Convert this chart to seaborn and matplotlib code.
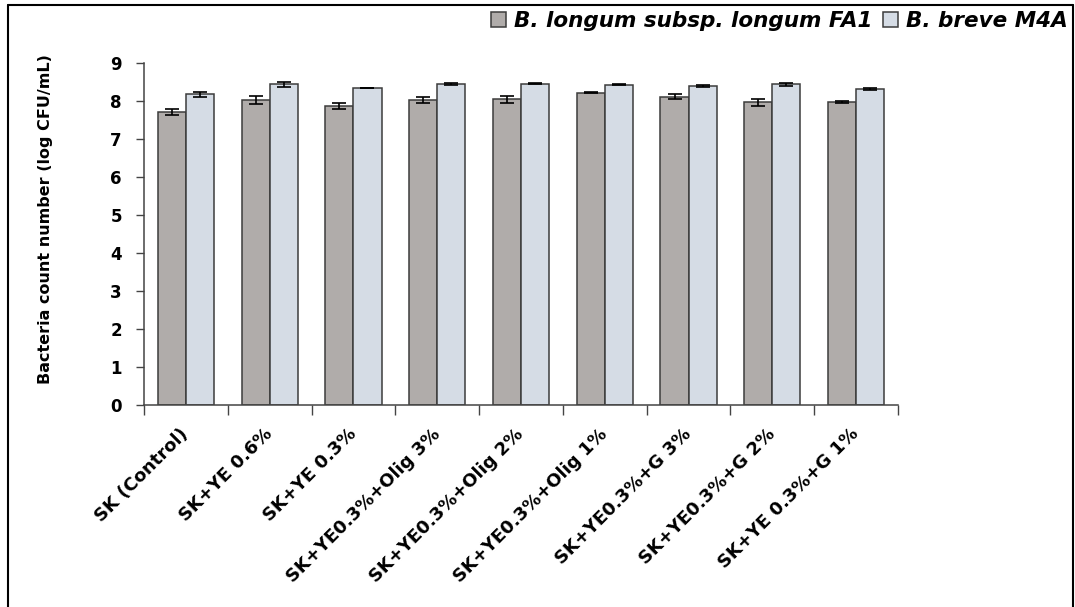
import numpy as np
import pandas as pd
import matplotlib
matplotlib.use("Agg")
import matplotlib.pyplot as plt
from matplotlib.lines import Line2D
import seaborn as sns

# Treatments and viable counts (log CFU/mL) with standard deviations
treatments = [
    "SK (Control)", "SK+YE 0.6%", "SK+YE 0.3%", "SK+YE0.3%+Olig 3%",
    "SK+YE0.3%+Olig 2%", "SK+YE0.3%+Olig 1%", "SK+YE0.3%+G 3%",
    "SK+YE0.3%+G 2%", "SK+YE 0.3%+G 1%",
]
strains = ["B. longum subsp. longum FA1", "B. breve M4A"]
fa1_mean = [7.70, 8.02, 7.87, 8.02, 8.04, 8.22, 8.11, 7.97, 7.97]
fa1_sd = [0.08, 0.11, 0.09, 0.08, 0.09, 0.01, 0.07, 0.09, 0.02]
m4a_mean = [8.18, 8.44, 8.34, 8.45, 8.46, 8.43, 8.40, 8.44, 8.32]
m4a_sd = [0.07, 0.06, 0.01, 0.02, 0.02, 0.01, 0.02, 0.04, 0.02]
yticks = list(range(0, 10))

df = pd.DataFrame({
    "treatment": treatments * 2,
    "strain": [strains[0]] * len(treatments) + [strains[1]] * len(treatments),
    "count": fa1_mean + m4a_mean,
    "sd": fa1_sd + m4a_sd,
})

sns.set_theme(style="white")
plt.rcParams["font.family"] = ["DejaVu Sans"]
plt.rcParams["font.weight"] = "bold"
plt.rcParams["text.color"] = "black"
plt.rcParams["axes.labelcolor"] = "black"
plt.rcParams["xtick.color"] = "black"
plt.rcParams["ytick.color"] = "black"

fig = plt.figure(figsize=(10.75, 6.07), dpi=100)
ax = fig.add_axes([0.134, 0.3328, 0.7013, 0.5634])

palette = {strains[0]: "#b0acaa", strains[1]: "#d5dce5"}
sns.barplot(data=df, x="treatment", y="count", hue="strain", order=treatments,
            hue_order=strains, palette=palette, width=0.67, errorbar=None,
            edgecolor="#3c3c3c", linewidth=1.1, saturation=1, ax=ax, legend=True)

# Error bars placed on the drawn bars
for container, strain in zip(ax.containers, strains):
    sub = df[df["strain"] == strain].set_index("treatment").loc[treatments]
    xs = [b.get_x() + b.get_width() / 2 for b in container]
    ax.errorbar(xs, sub["count"].values, yerr=sub["sd"].values, fmt="none",
                ecolor="black", elinewidth=1.2, capsize=5, capthick=1.2, zorder=5)

ax.set_ylim(0, 9)
ax.set_xlim(-0.5, len(treatments) - 0.5)
ax.set_yticks(yticks)
ax.set_yticklabels([str(v) for v in yticks], fontsize=12, fontweight="bold")
ax.set_xticks(range(len(treatments)))
ax.set_xticklabels(treatments, rotation=45, ha="right", va="center",
                   rotation_mode="anchor", fontsize=13, fontweight="bold")
ax.set_xticks(np.arange(-0.5, len(treatments), 1), minor=True)
ax.tick_params(axis="x", which="major", length=0, pad=19)
ax.tick_params(axis="x", which="minor", length=7, width=1, color="#444444",
               direction="out", bottom=True)
ax.tick_params(axis="y", length=6, width=1, color="#444444", direction="out",
               left=True, pad=10)

for side in ["top", "right"]:
    ax.spines[side].set_visible(False)
for side in ["left", "bottom"]:
    ax.spines[side].set_color("#444444")
    ax.spines[side].set_linewidth(1.1)

ax.set_xlabel("")
ax.set_ylabel("Bacteria count number (log CFU/mL)", fontsize=11.5, fontweight="bold")
ax.yaxis.set_label_coords(-0.121, 0.544)

handles, labels = ax.get_legend_handles_labels()
ax.get_legend().remove()
fig.legend(handles, labels, loc="center right", bbox_to_anchor=(1.011, 0.966),
           ncol=2, frameon=False, handlelength=0.7, handleheight=0.7,
           handletextpad=0.35, columnspacing=0.5,
           prop={"family": "DejaVu Sans", "weight": "bold",
                 "style": "italic", "size": 15.5})

# Outer frame of the figure (open at the bottom)
frame_kw = dict(color="black", linewidth=1.5, transform=fig.transFigure)
x0, x1, ytop = 8 / 1075, 1073 / 1075, 1 - 5 / 607
fig.add_artist(Line2D([x0, x0], [0, ytop], **frame_kw))
fig.add_artist(Line2D([x0, x1], [ytop, ytop], **frame_kw))
fig.add_artist(Line2D([x1, x1], [0, ytop], **frame_kw))

fig.savefig("out.png", dpi=100)
